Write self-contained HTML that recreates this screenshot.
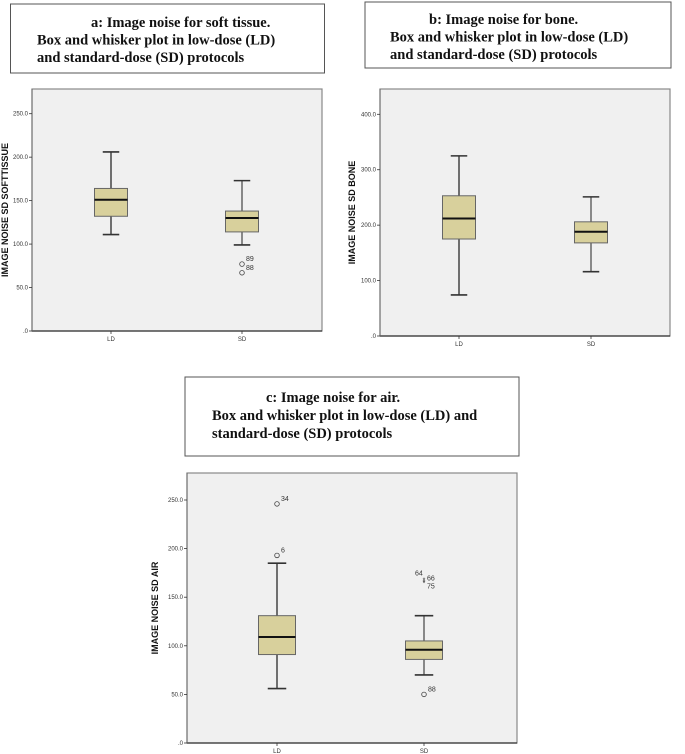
<!DOCTYPE html>
<html><head><meta charset="utf-8"><style>
body{margin:0;background:#fff;}
svg{display:block;}
.t{font-family:"Liberation Serif",serif;font-weight:bold;font-size:14.5px;fill:#111;}
.tk{font-family:"Liberation Sans",sans-serif;font-size:6px;fill:#333;}
.yl{font-family:"Liberation Sans",sans-serif;font-weight:bold;font-size:9px;fill:#111;}
.ol{font-family:"Liberation Sans",sans-serif;font-size:7px;fill:#333;}
</style></head><body>
<svg id="s" width="685" height="754" viewBox="0 0 685 754" xmlns="http://www.w3.org/2000/svg">
<g>
<rect x="10.5" y="4" width="314" height="69" fill="#fff" stroke="#555" stroke-width="1"/>
<text class="t" x="91" y="27">a: Image noise for soft tissue.</text>
<text class="t" x="37" y="44.5">Box and whisker plot in low-dose (LD)</text>
<text class="t" x="37" y="62">and standard-dose (SD) protocols</text>
</g>
<g>
<rect x="365" y="2" width="306" height="66" fill="#fff" stroke="#555" stroke-width="1"/>
<text class="t" x="429" y="24">b: Image noise for bone.</text>
<text class="t" x="390" y="41.5">Box and whisker plot in low-dose (LD)</text>
<text class="t" x="390" y="59">and standard-dose (SD) protocols</text>
</g>
<g>
<rect x="185" y="377" width="334" height="79" fill="#fff" stroke="#555" stroke-width="1"/>
<text class="t" x="266" y="402">c: Image noise for air.</text>
<text class="t" x="212" y="420">Box and whisker plot in low-dose (LD) and</text>
<text class="t" x="212" y="438">standard-dose (SD) protocols</text>
</g>
</svg>
<script>
const categories=["LD","SD"];
// chart a: soft tissue
const aLow=[111,99], aQ1=[132,114], aMed=[151,130], aQ3=[164,138], aHigh=[206,173];
const aOutVals=[77,67], aOutCat=[1,1], aOutLbl=["89","88"];
const aTicks=[0,50,100,150,200,250];
// chart b: bone
const bLow=[74,116], bQ1=[175,168], bMed=[212,188], bQ3=[253,206], bHigh=[325,251];
const bTicks=[0,100,200,300,400];
// chart c: air
const cLow=[56,70], cQ1=[91,86], cMed=[109,96], cQ3=[131,105], cHigh=[185,131];
const cOutVals=[246,193,50], cOutCat=[0,0,1], cOutLbl=["34","6","88"];
const cStarVals=[168,166,165], cStarCat=[1,1,1], cStarLbl=["64","66","75"];
const cTicks=[0,50,100,150,200,250];

const NS="http://www.w3.org/2000/svg";
const svg=document.getElementById('s');
function mk(tag,attrs,parent,txt){const e=document.createElementNS(NS,tag);for(const k in attrs)e.setAttribute(k,attrs[k]);if(txt!==undefined)e.textContent=txt;(parent||svg).appendChild(e);return e;}
function fmt(v){return v===0?".0":v.toFixed(1);}

function chart(cfg){
  const g=mk('g',{});
  
  
  const {L,T,R,B,y0,vRef,yRef,xs,bw}=cfg;
  const py=v=>y0-(y0-yRef)*v/vRef;
  const frame=mk('rect',{x:L,y:T,width:R-L,height:B-T,fill:'#f0f0f0',stroke:'#888','stroke-width':1.2},g);
  
  
  mk('line',{x1:L,y1:B,x2:R,y2:B,stroke:'#333','stroke-width':1.3},g);
  mk('line',{x1:L,y1:T,x2:L,y2:B,stroke:'#666','stroke-width':1},g);
  cfg.ticks.forEach(t=>{
    const y=py(t);
    mk('line',{x1:L-3,y1:y,x2:L,y2:y,stroke:'#333','stroke-width':0.8},g);
    const tl=mk('text',{class:'tk',x:L-4,y:y+2,'text-anchor':'end'},g,fmt(t));
    
    
  });
  categories.forEach((c,i)=>{
    const x=xs[i];
    mk('line',{x1:x,y1:B,x2:x,y2:B+3,stroke:'#333','stroke-width':0.8},g);
    const xl=mk('text',{class:'tk',x:x,y:B+10,'text-anchor':'middle'},g,c);
    
    
    const bx=mk('g',{},g);
    
    
    const sw=i===0?1.5:1.2;
    mk('line',{x1:x,y1:py(cfg.hi[i]),x2:x,y2:py(cfg.q3[i]),stroke:'#444','stroke-width':sw},bx);
    mk('line',{x1:x,y1:py(cfg.q1[i]),x2:x,y2:py(cfg.lo[i]),stroke:'#444','stroke-width':sw},bx);
    mk('line',{x1:x-bw/4,y1:py(cfg.hi[i]),x2:x+bw/4,y2:py(cfg.hi[i]),stroke:'#333','stroke-width':1.6},bx);
    mk('line',{x1:x-bw/4,y1:py(cfg.lo[i]),x2:x+bw/4,y2:py(cfg.lo[i]),stroke:'#333','stroke-width':1.6},bx);
    mk('rect',{x:x-bw/2,y:py(cfg.q3[i]),width:bw,height:py(cfg.q1[i])-py(cfg.q3[i]),fill:'#d8d09c',stroke:'#666','stroke-width':1},bx);
    mk('line',{x1:x-bw/2,y1:py(cfg.med[i]),x2:x+bw/2,y2:py(cfg.med[i]),stroke:'#111','stroke-width':2},bx);
  });
  (cfg.out||[]).forEach((v,k)=>{
    const x=xs[cfg.outCat[k]],y=py(v);
    const o=mk('circle',{cx:x,cy:y,r:2.3,fill:'none',stroke:'#444','stroke-width':0.8},g);
    
    
    mk('text',{class:'ol',x:x+4,y:y-3},g,cfg.outLbl[k]);
  });
  (cfg.star||[]).forEach((v,k)=>{
    const x=xs[cfg.starCat[k]],y=py(v);
    const s=mk('text',{class:'ol',x:x,y:y+3,'text-anchor':'middle'},g,'*');
    
    
    const dx=[-9,3,3][k],dy=[-4,-1,6][k];
    mk('text',{class:'ol',x:x+dx,y:y+dy},g,cfg.starLbl[k]);
  });
  const yt=mk('text',{class:'yl',transform:`translate(${cfg.ylx},${(T+B)/2}) rotate(-90)`,'text-anchor':'middle'},g,cfg.ylabel);
  
  
}
chart({name:'chart-soft-tissue',L:32,T:89,R:322,B:331,y0:331,vRef:250,yRef:113.7,xs:[111,242],bw:33,
  lo:aLow,q1:aQ1,med:aMed,q3:aQ3,hi:aHigh,ticks:aTicks,out:aOutVals,outCat:aOutCat,outLbl:aOutLbl,ylx:8,ylabel:'IMAGE NOISE SD SOFTTISSUE'});
chart({name:'chart-bone',L:380,T:89,R:670,B:336,y0:336,vRef:400,yRef:114.3,xs:[459,591],bw:33,
  lo:bLow,q1:bQ1,med:bMed,q3:bQ3,hi:bHigh,ticks:bTicks,ylx:355,ylabel:'IMAGE NOISE SD BONE'});
chart({name:'chart-air',L:187,T:473,R:517,B:743,y0:743,vRef:250,yRef:500,xs:[277,424],bw:37,
  lo:cLow,q1:cQ1,med:cMed,q3:cQ3,hi:cHigh,ticks:cTicks,out:cOutVals,outCat:cOutCat,outLbl:cOutLbl,
  star:cStarVals,starCat:cStarCat,starLbl:cStarLbl,ylx:158,ylabel:'IMAGE NOISE SD AIR'});
</script>
</body></html>
